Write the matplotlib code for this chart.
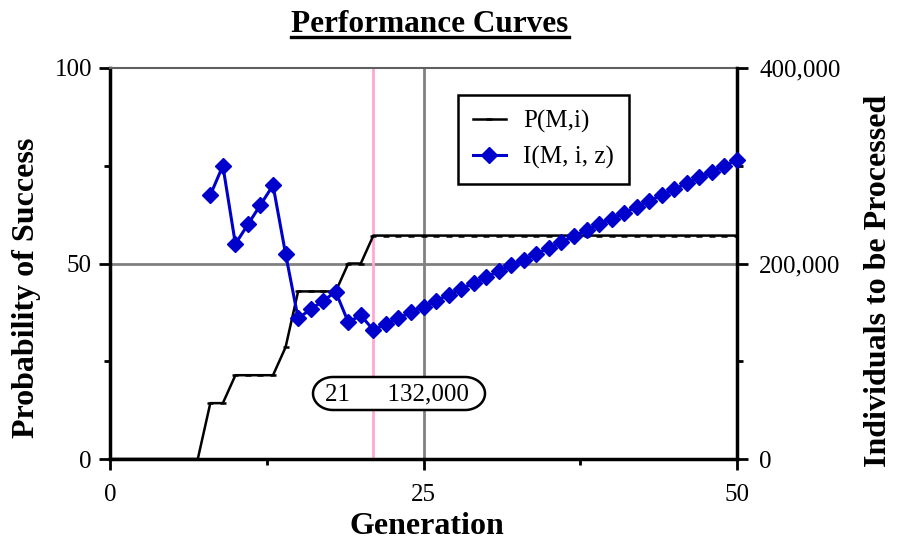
import matplotlib
matplotlib.use("Agg")
import matplotlib.pyplot as plt
import numpy as np
from matplotlib.ticker import FuncFormatter, MultipleLocator, FixedLocator
from matplotlib.patches import PathPatch
from matplotlib.path import Path
from matplotlib.transforms import IdentityTransform

plt.rcParams['font.family'] = ['Liberation Serif', 'DejaVu Serif']

# ---------------- data ----------------
generations = [0, 1, 2, 3, 4, 5, 6, 7, 8, 9, 10, 11, 12, 13, 14, 15, 16, 17, 18, 19,
               20, 21, 22, 23, 24, 25, 26, 27, 28, 29, 30, 31, 32, 33, 34, 35, 36, 37,
               38, 39, 40, 41, 42, 43, 44, 45, 46, 47, 48, 49, 50]
p_success = [0, 0, 0, 0, 0, 0, 0, 0, 14.29, 14.29, 21.43, 21.43, 21.43, 21.43, 28.57,
             42.86, 42.86, 42.86, 42.86, 50.0, 50.0, 57.14, 57.14, 57.14, 57.14, 57.14,
             57.14, 57.14, 57.14, 57.14, 57.14, 57.14, 57.14, 57.14, 57.14, 57.14,
             57.14, 57.14, 57.14, 57.14, 57.14, 57.14, 57.14, 57.14, 57.14, 57.14,
             57.14, 57.14, 57.14, 57.14, 57.14]

i_generations = [8, 9, 10, 11, 12, 13, 14, 15, 16, 17, 18, 19, 20, 21, 22, 23, 24, 25,
                 26, 27, 28, 29, 30, 31, 32, 33, 34, 35, 36, 37, 38, 39, 40, 41, 42, 43,
                 44, 45, 46, 47, 48, 49, 50]
individuals = [270000, 300000, 220000, 240000, 260000, 280000, 210000, 144000, 153000,
               162000, 171000, 140000, 147000, 132000, 138000, 144000, 150000, 156000,
               162000, 168000, 174000, 180000, 186000, 192000, 198000, 204000, 210000,
               216000, 222000, 228000, 234000, 240000, 246000, 252000, 258000, 264000,
               270000, 276000, 282000, 288000, 294000, 300000, 306000]

best_generation = 21
best_individuals = "132,000"
x_ticks = [0, 25, 50]
y_ticks = [0, 50, 100]
y2_ticks = [0, 200000, 400000]

# ---------------- figure ----------------
W, H = 898, 546
fig = plt.figure(figsize=(W / 100, H / 100), dpi=100)
ax = fig.add_axes([110 / W, 1 - 459 / H, (737 - 110) / W, (459 - 68) / H])
ax2 = ax.twinx()

ax.set_xlim(0, 50)
ax.set_ylim(0, 100)
ax2.set_ylim(0, 400000)

grid_col = '#808080'
ax.axhline(50, color=grid_col, lw=2, zorder=1)
ax.axvline(25, color=grid_col, lw=2, zorder=1)
ax.axvline(best_generation, color='#FFA8D2', lw=2, zorder=1)

lp, = ax.plot(generations, p_success, color='black', lw=1.8, marker='_',
              markersize=5, markeredgewidth=1.8, zorder=3, label='P(M,i)')
li, = ax2.plot(i_generations, individuals, color='#0000CC', lw=2.2, marker='D',
               markersize=8, zorder=4, clip_on=False, label='I(M, i, z)')

# spines
for sp in ['left', 'bottom']:
    ax.spines[sp].set_linewidth(2.5)
    ax.spines[sp].set_color('black')
ax.spines['top'].set_color('#606060')
ax.spines['top'].set_linewidth(1.5)
ax.spines['right'].set_visible(False)
ax2.spines['right'].set_linewidth(2.5)
ax2.spines['left'].set_visible(False)
ax2.spines['bottom'].set_visible(False)
ax2.spines['top'].set_visible(False)

# ticks
ax.xaxis.set_major_locator(FixedLocator(x_ticks))
ax.xaxis.set_minor_locator(MultipleLocator(12.5))
ax.yaxis.set_major_locator(FixedLocator(y_ticks))
ax.yaxis.set_minor_locator(MultipleLocator(25))
ax2.yaxis.set_major_locator(FixedLocator(y2_ticks))
ax2.yaxis.set_minor_locator(MultipleLocator(100000))
ax2.yaxis.set_major_formatter(FuncFormatter(lambda v, p: f"{int(v):,}"))

ax.tick_params(axis='both', which='major', direction='out', length=8, width=2,
               labelsize=18, colors='black')
ax.tick_params(axis='both', which='minor', direction='out', length=4, width=2)
ax.tick_params(axis='x', which='major', pad=10)
ax.tick_params(axis='y', which='major', pad=5)
ax2.tick_params(axis='y', which='major', direction='out', length=8, width=2,
                labelsize=18, pad=8)
ax2.tick_params(axis='y', which='minor', direction='out', length=4, width=2)

ax2.set_zorder(ax.get_zorder() + 1)
ax2.patch.set_visible(False)

# axis labels
fig.text(27 / W, 1 - 288 / H, 'Probability of Success', rotation=90, ha='center',
         va='center', fontsize=23, fontweight='bold')
fig.text(879 / W, 1 - 281 / H, 'Individuals to be Processed', rotation=90,
         ha='center', va='center', fontsize=23, fontweight='bold')
fig.text(427 / W, 1 - 527 / H, 'Generation', ha='center', va='center',
         fontsize=23, fontweight='bold')

# title with underline
title = fig.text(430 / W, 1 - 32 / H, 'Performance Curves', ha='center',
                 va='baseline', fontsize=22.5, fontweight='bold')
fig.canvas.draw()
bb = title.get_window_extent()
fig.add_artist(plt.Line2D([bb.x0, bb.x1], [H - 37, H - 37], transform=IdentityTransform(),
                          color='black', lw=2.4))

# legend
leg = ax2.legend(handles=[lp, li], loc='upper left',
                 bbox_to_anchor=(458 / W, 1 - 95 / H), bbox_transform=fig.transFigure,
                 borderaxespad=0, fontsize=18, frameon=True, fancybox=False,
                 handlelength=1.3, handletextpad=0.7, labelspacing=0.5,
                 borderpad=0.6, framealpha=1)
leg.get_frame().set_edgecolor('black')
leg.get_frame().set_linewidth(1.8)
leg.set_zorder(10)

# annotation pill (straight sides, elliptical ends), in pixel coordinates
x0, x1, ytop, ybot = 313, 485, H - 377, H - 410
rx, ry = 20, (ytop - ybot) / 2
cy = (ytop + ybot) / 2
t_right = np.linspace(-np.pi / 2, np.pi / 2, 40)
t_left = np.linspace(np.pi / 2, 3 * np.pi / 2, 40)
verts = ([(x1 - rx + rx * np.cos(t), cy + ry * np.sin(t)) for t in t_right] +
         [(x0 + rx + rx * np.cos(t), cy + ry * np.sin(t)) for t in t_left])
verts.append(verts[0])
codes = [Path.MOVETO] + [Path.LINETO] * (len(verts) - 2) + [Path.CLOSEPOLY]
pill = PathPatch(Path(verts, codes), transform=IdentityTransform(), facecolor='white',
                 edgecolor='black', lw=1.8, zorder=5)
fig.add_artist(pill)
fig.text(397 / W, 1 - 394 / H, f"{best_generation}      {best_individuals}",
         ha='center', va='center', fontsize=18, zorder=6)

fig.savefig('out.png', dpi=100)
